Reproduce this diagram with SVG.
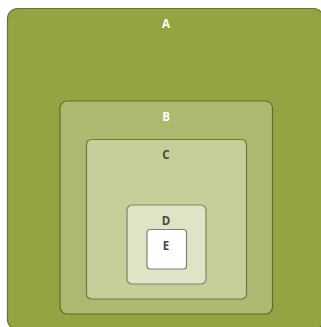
<svg xmlns="http://www.w3.org/2000/svg" width="321" height="327" viewBox="0 0 321 327">
<style>
.box{stroke-width:1.2}
.lbl{font-family:"Open Sans","Liberation Sans",Arial,sans-serif;font-size:11.5px;font-weight:bold;text-anchor:middle;dominant-baseline:central}
.light{fill:#ffffff}
.dark{fill:#4a4a3a}
</style>
<rect width="321" height="327" fill="#ffffff"/>
<g id="A">
<rect class="box" x="7.5" y="8.5" width="316" height="321" rx="10" fill="#93a443" stroke="#66742c"/>
<text class="lbl light" x="166" y="23">A</text>
</g>
<g id="B">
<rect class="box" x="60" y="101" width="212.5" height="213" rx="7" fill="#acb96f" stroke="#5f6b2f"/>
<text class="lbl light" x="166" y="116">B</text>
</g>
<g id="C">
<rect class="box" x="86.5" y="139.5" width="160" height="159.5" rx="5" fill="#c5cf9a" stroke="#6f7a48"/>
<text class="lbl dark" x="166" y="154">C</text>
</g>
<g id="D">
<rect class="box" x="127" y="205" width="79" height="79" rx="5" fill="#dfe4c6" stroke="#7f8763"/>
<text class="lbl dark" x="166" y="220">D</text>
</g>
<g id="E">
<rect class="box" x="147" y="229.5" width="39.5" height="39.5" rx="3" fill="#ffffff" stroke="#7f8470"/>
<text class="lbl dark" x="166" y="245">E</text>
</g>
<g id="connectors"></g>
</svg>
